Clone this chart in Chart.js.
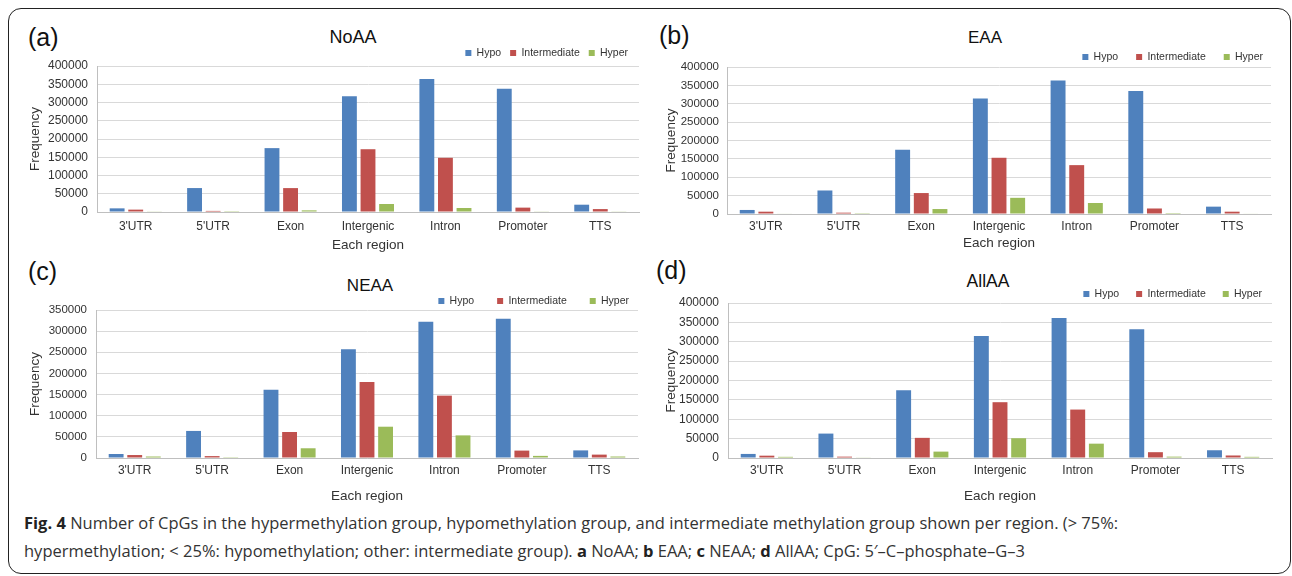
<!DOCTYPE html>
<html>
<head>
<meta charset="utf-8">
<title>Fig. 4 - CpGs per region by methylation group</title>
<script src="https://cdn.jsdelivr.net/npm/chart.js@4.4.1/dist/chart.umd.min.js"></script>
<style>
  body { margin: 0; width: 1292px; height: 576px; overflow: hidden; background: #fff; position: relative;
         font-family: "Liberation Sans", Arial, sans-serif; }
  .frame { position: absolute; left: 8px; top: 8px; width: 1283px; height: 566px; box-sizing: border-box;
           border: 1.6px solid #222; border-radius: 13px; }
  .panel { position: absolute; }
  .tag { position: absolute; font-size: 25px; line-height: 30px; color: #111; }
  .ptitle { position: absolute; color: #111; transform: translateX(-50%); white-space: nowrap; }
  .caption { position: absolute; left: 24px; top: 509px; font-family: "Open Sans", sans-serif; font-size: 16.5px;
             line-height: 28px; color: #333; white-space: nowrap; }
  .caption b { color: #222; }
</style>
</head>
<body>
<div class="frame"></div>

<div class="tag" style="left:28px; top:22px;">(a)</div>
<div class="tag" style="left:659px; top:20px;">(b)</div>
<div class="tag" style="left:28px; top:256px;">(c)</div>
<div class="tag" style="left:656px; top:255px;">(d)</div>

<div class="ptitle" style="left:353px; top:27px; font-size:18px;">NoAA</div>
<div class="ptitle" style="left:985px; top:28px; font-size:17px;">EAA</div>
<div class="ptitle" style="left:370px; top:276px; font-size:17px;">NEAA</div>
<div class="ptitle" style="left:988px; top:271px; font-size:17.5px;">AllAA</div>

<div class="panel" id="pa"><canvas id="ca"></canvas></div>
<div class="panel" id="pb"><canvas id="cb"></canvas></div>
<div class="panel" id="pc"><canvas id="cc"></canvas></div>
<div class="panel" id="pd"><canvas id="cd"></canvas></div>

<div class="caption"><b>Fig. 4</b> Number of CpGs in the hypermethylation group, hypomethylation group, and intermediate methylation group shown per region. (&gt; 75%:<br>hypermethylation; &lt; 25%: hypomethylation; other: intermediate group). <b>a</b> NoAA; <b>b</b> EAA; <b>c</b> NEAA; <b>d</b> AllAA; CpG: 5′–C–phosphate–G–3</div>

<script>
// categories and series
const regions = ["3'UTR", "5'UTR", "Exon", "Intergenic", "Intron", "Promoter", "TTS"];
const groups = ["Hypo", "Intermediate", "Hyper"];
const groupColors = ["#4F81BD", "#C0504D", "#9BBB59"];

const noaaHypo  = [10000, 65600, 175000, 317000, 364500, 338000, 20000];
const noaaInter = [6500, 3000, 65500, 172000, 148500, 12000, 8000];
const noaaHyper = [1000, 500, 4500, 22000, 11000, 1000, 1000];

const eaaHypo  = [11000, 64000, 175000, 314000, 363000, 335000, 20000];
const eaaInter = [6300, 3600, 57000, 153000, 133000, 15000, 6300];
const eaaHyper = [1500, 500, 13500, 44000, 30000, 2500, 1500];

const neaaHypo  = [9500, 64000, 161500, 257000, 322500, 329500, 18000];
const neaaInter = [7000, 4500, 61500, 179500, 147500, 17500, 8000];
const neaaHyper = [3500, 500, 23000, 74000, 53500, 5000, 3500];

const allaaHypo  = [10500, 63000, 175000, 315000, 361000, 332000, 20000];
const allaaInter = [6000, 3500, 52000, 144000, 125000, 15000, 6500];
const allaaHyper = [3000, 1000, 16500, 51000, 37000, 3500, 3000];

const yTicksA = 400000, yTicksC = 350000, yStep = 50000;

Chart.defaults.font.family = "'Liberation Sans', Arial, sans-serif";
Chart.defaults.color = "#404040";

// shifts the legend after layout so it sits where the figure has it
const legendNudge = {
  id: 'legendNudge',
  afterLayout(chart, args, opts) {
    const lg = chart.legend;
    if (!lg) return;
    lg.top += opts.dy; lg.bottom += opts.dy;
    lg.left += opts.dx; lg.right += opts.dx;
  }
};

const LEGEND_FONT = 10.5;
const AXIS_TITLE = 13.5;

function makePanel(p) {
  const div = document.getElementById(p.div);
  Object.assign(div.style, { left: p.box.x + 'px', top: p.box.y + 'px', width: p.box.w + 'px', height: p.box.h + 'px' });

  const legendH = LEGEND_FONT + p.legendGap + 10;
  const padTop = p.plot.t - p.box.y - legendH;
  const padRight = p.box.x + p.box.w - p.plot.r;
  const yAxisW = p.plot.l - p.box.x;
  const lh = AXIS_TITLE * 1.2;
  const xAxisH = p.xTitleY - p.plot.b + lh / 2;
  const padBottom = p.box.y + p.box.h - p.plot.b - xAxisH;
  const legendDy = p.legendY - (p.box.y + padTop + p.legendGap + LEGEND_FONT / 2);
  const legendDx = p.legendRight - p.plot.r + p.legendGap;

  new Chart(document.getElementById(p.canvas), {
    type: 'bar',
    data: {
      labels: regions,
      datasets: groups.map((g, i) => ({
        label: g,
        data: p.series[i],
        backgroundColor: groupColors[i],
        borderWidth: 0,
        categoryPercentage: 0.72,
        barPercentage: 0.8
      }))
    },
    plugins: [legendNudge],
    options: {
      responsive: true,
      maintainAspectRatio: false,
      animation: false,
      layout: { padding: { left: 0, right: padRight, top: padTop, bottom: padBottom } },
      plugins: {
        title: { display: false },
        tooltip: { enabled: false },
        legend: {
          position: 'top',
          align: 'end',
          labels: { boxWidth: 6, boxHeight: 6, padding: p.legendGap, color: '#333',
                    font: { size: LEGEND_FONT } }
        },
        legendNudge: { dx: legendDx, dy: legendDy }
      },
      scales: {
        x: {
          grid: { display: false, drawTicks: false },
          border: { color: '#bfbfbf' },
          ticks: { font: { size: p.xTick }, color: '#333', padding: p.xTickY - p.plot.b - p.xTick * 0.6 },
          title: { display: true, text: 'Each region', color: '#333', font: { size: AXIS_TITLE },
                   padding: { top: 0, bottom: 0 } },
          afterFit(s) { s.height = xAxisH; }
        },
        y: {
          min: 0,
          max: p.yMax,
          grid: { color: '#d9d9d9', drawTicks: false },
          border: { color: '#bfbfbf' },
          ticks: { stepSize: yStep, font: { size: p.yTick }, color: '#333', padding: p.yPad,
                   callback: v => String(v) },
          title: { display: true, text: 'Frequency', color: '#333', font: { size: AXIS_TITLE },
                   padding: { top: p.yTitleX - p.box.x - lh / 2, bottom: 0 } },
          afterFit(s) { s.width = yAxisW; }
        }
      }
    }
  });
}

makePanel({ div: 'pa', canvas: 'ca', series: [noaaHypo, noaaInter, noaaHyper], yMax: yTicksA,
  box: { x: 10, y: 10, w: 636, h: 250 }, plot: { l: 97, t: 66, r: 639, b: 212 },
  legendY: 53, legendRight: 628, legendGap: 9, xTick: 12, yTick: 12, yPad: 9,
  xTickY: 227, xTitleY: 245, yTitleX: 35 });

makePanel({ div: 'pb', canvas: 'cb', series: [eaaHypo, eaaInter, eaaHyper], yMax: yTicksA,
  box: { x: 646, y: 10, w: 640, h: 250 }, plot: { l: 727, t: 67, r: 1271, b: 214 },
  legendY: 57, legendRight: 1263, legendGap: 18, xTick: 12, yTick: 11.5, yPad: 8,
  xTickY: 227, xTitleY: 243, yTitleX: 671 });

makePanel({ div: 'pc', canvas: 'cc', series: [neaaHypo, neaaInter, neaaHyper], yMax: yTicksC,
  box: { x: 10, y: 260, w: 636, h: 246 }, plot: { l: 96, t: 310, r: 638, b: 458 },
  legendY: 301, legendRight: 629, legendGap: 23, xTick: 12, yTick: 11.5, yPad: 9,
  xTickY: 471, xTitleY: 496, yTitleX: 35 });

makePanel({ div: 'pd', canvas: 'cd', series: [allaaHypo, allaaInter, allaaHyper], yMax: yTicksA,
  box: { x: 646, y: 260, w: 640, h: 246 }, plot: { l: 728, t: 303, r: 1272, b: 458 },
  legendY: 294, legendRight: 1262, legendGap: 17, xTick: 12, yTick: 12, yPad: 9,
  xTickY: 471, xTitleY: 496, yTitleX: 671 });
</script>
</body>
</html>
